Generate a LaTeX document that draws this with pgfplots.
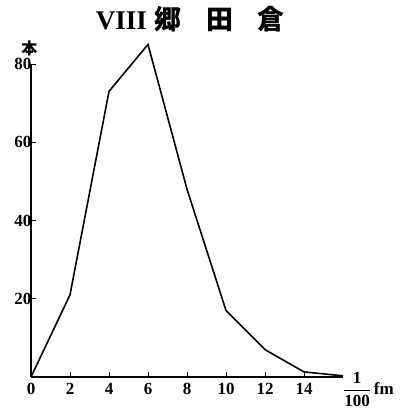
\documentclass[border=0pt]{standalone}
\usepackage{pgfplots}
\pgfplotsset{compat=1.18}
\usepackage{fontspec}
\setmainfont{Liberation Serif}
\newfontfamily\cjk{Noto Sans CJK JP}

\begin{document}
\begin{tikzpicture}
\begin{axis}[
    scale only axis,
    width=312pt, height=313pt,
    xmin=0, xmax=16,
    ymin=0, ymax=80,
    clip=false,
    axis lines=left,
    axis line style={-, line width=1.2pt},
    xtick={0,2,4,6,8,10,12,14},
    ytick={20,40,60,80},
    tick align=inside,
    major tick length=5pt,
    tick style={line width=1pt, black},
    /pgf/number format/assume math mode=true,
    ticklabel style={font=\fontsize{17}{17}\selectfont\bfseries},
    xticklabel style={yshift=-3pt},
    yticklabel style={xshift=4pt},
]
\addplot[black, line width=1.6pt, sharp plot] coordinates {
    (0,0) (2,21) (4,73) (6,85) (8,48) (10,17) (12,7) (14,1.3) (16,0.3)
};
\node[font=\fontsize{27}{27}\selectfont\bfseries, anchor=base] at (rel axis cs:0.51,1.11)
    {VIII\hspace{0.3em}{\cjk 郷\hspace{0.9em}田\hspace{0.9em}倉}};
\node[font=\cjk\fontsize{16}{16}\selectfont\bfseries] at (rel axis cs:-0.005,1.05) {本};
\node[anchor=west, font=\fontsize{17}{17}\selectfont\bfseries, inner sep=0pt] at (rel axis cs:1.0,-0.04)
    {$\displaystyle\frac{\textbf{1}}{\textbf{100}}$\,fm};
\end{axis}
\pgfresetboundingbox
\path (-31pt,-40pt) rectangle (370pt,377pt);
\end{tikzpicture}
\end{document}
